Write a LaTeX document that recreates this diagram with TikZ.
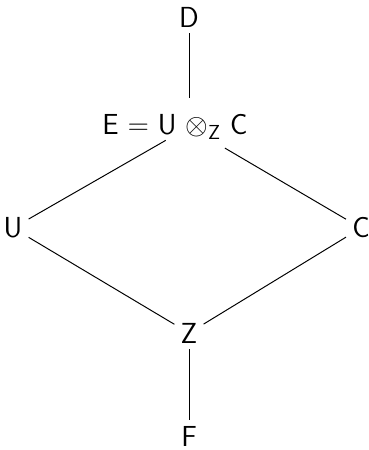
\documentclass[tikz,border=0pt]{standalone}
\usetikzlibrary{positioning}

\begin{document}
\begin{tikzpicture}[
    x=0.025cm, y=-0.025cm,
    obj/.style={inner sep=0.15cm, font=\fontsize{20.6}{24}\selectfont\sffamily},
    link/.style={line width=0.7pt, black}
]
\useasboundingbox (0,0) rectangle (369,450);

% Objects
\node[obj] (D) at (189,17) {D};
\coordinate (e) at (189,127);
\node[obj] (E) at (175,127) {E $=$ U $\otimes_{\mathsf{Z}}$ C};
\node[obj] (U) at (13,228) {U};
\node[obj] (C) at (361,228) {C};
\node[obj] (Z) at (189,333) {Z};
\node[obj] (F) at (189,436) {F};

% Links
\draw[link, shorten >=0.72cm] (D) -- (e);
\draw[link, shorten <=0.67cm] (e) -- (U);
\draw[link, shorten <=1.04cm] (e) -- (C);
\draw[link] (U) -- (Z);
\draw[link] (C) -- (Z);
\draw[link] (Z) -- (F);

\end{tikzpicture}
\end{document}
